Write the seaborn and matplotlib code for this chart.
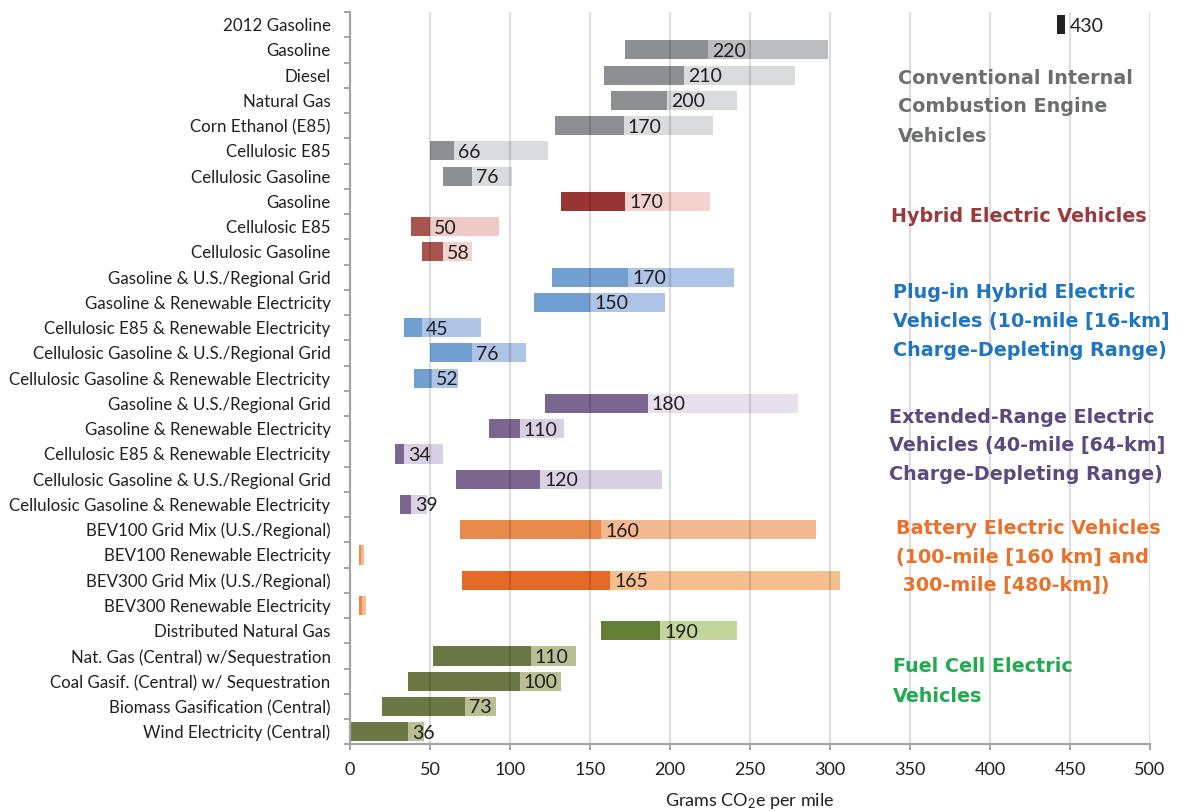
import numpy as np
import pandas as pd
import matplotlib.pyplot as plt
import seaborn as sns
from matplotlib.ticker import FixedLocator

# rows, top to bottom
labels = [
    "2012 Gasoline",
    "Gasoline", "Diesel", "Natural Gas", "Corn Ethanol (E85)",
    "Cellulosic E85", "Cellulosic Gasoline",
    "Gasoline", "Cellulosic E85", "Cellulosic Gasoline",
    "Gasoline & U.S./Regional Grid", "Gasoline & Renewable Electricity",
    "Cellulosic E85 & Renewable Electricity",
    "Cellulosic Gasoline & U.S./Regional Grid",
    "Cellulosic Gasoline & Renewable Electricity",
    "Gasoline & U.S./Regional Grid", "Gasoline & Renewable Electricity",
    "Cellulosic E85 & Renewable Electricity",
    "Cellulosic Gasoline & U.S./Regional Grid",
    "Cellulosic Gasoline & Renewable Electricity",
    "BEV100 Grid Mix (U.S./Regional)", "BEV100 Renewable Electricity",
    "BEV300 Grid Mix (U.S./Regional)", "BEV300 Renewable Electricity",
    "Distributed Natural Gas", "Nat. Gas (Central) w/Sequestration",
    "Coal Gasif. (Central) w/ Sequestration",
    "Biomass Gasification (Central)", "Wind Electricity (Central)",
]

# range start, central estimate, range end (g CO2e / mile)
low = [442, 172, 159, 163, 128, 50, 58, 132, 38, 45,
       126, 115, 34, 50, 40, 122, 87, 28, 66, 31,
       69, 5.6, 70, 5.6, 157, 52, 36, 20, 0.6]
mid = [447, 224, 209, 198, 171, 65, 76, 172, 50, 58,
       174, 150, 45, 76, 51, 186, 106, 34, 119, 38,
       157, 7.1, 162.5, 7.4, 194, 113, 106, 72, 36]
high = [447, 299, 278, 242, 227, 124, 101, 225, 93, 76,
        240, 197, 82, 110, 67.5, 280, 134, 58, 195, 48,
        291, 8.8, 306, 10, 242, 141, 132, 91, 46]
shown = ["430", "220", "210", "200", "170", "66", "76", "170", "50", "58",
         "170", "150", "45", "76", "52", "180", "110", "34", "120", "39",
         "160", "", "165", "", "190", "110", "100", "73", "36"]

dark = ["#231f20"] + ["#8e8f93"] * 6 + ["#993434", "#a9544f", "#a9544f"] \
    + ["#729fd2"] * 5 + ["#7b668f"] * 5 \
    + ["#e9894b", "#ec8a4c", "#e46b25", "#ec8a4c"] \
    + ["#657f37"] + ["#6b7846"] * 4
light = ["#231f20", "#bcbdbf"] + ["#dadbdc"] * 5 \
    + ["#f2d3d0", "#eecbc7", "#f2d3d0"] + ["#adc4e6"] * 5 \
    + ["#e7e0ed"] + ["#d9d1e3"] * 4 \
    + ["#f4b98e", "#f4b98e", "#f8bf8e", "#f8bf8e"] \
    + ["#c3d69b"] + ["#b7bf93"] * 4

group_names = [
    ["Conventional Internal", "Combustion Engine", "Vehicles"],
    ["Hybrid Electric Vehicles"],
    ["Plug-in Hybrid Electric", "Vehicles (10-mile [16-km]", "Charge-Depleting Range)"],
    ["Extended-Range Electric", "Vehicles (40-mile [64-km]", "Charge-Depleting Range)"],
    ["Battery Electric Vehicles", "(100-mile [160 km] and", " 300-mile [480-km])"],
    ["Fuel Cell Electric", "Vehicles"],
]
group_colors = ["#6d6e71", "#9b3a3a", "#1f75bf", "#5b4a7e", "#e8722c", "#22ab4e"]
# first-line pixel position of each group caption
group_xy = [(898, 78), (891, 216), (893, 292), (889, 417), (896, 528), (893, 667)]

sns.set_theme(style="white")
plt.rcParams["font.family"] = ["Lato", "DejaVu Sans"]
plt.rcParams["mathtext.fontset"] = "custom"
plt.rcParams["mathtext.rm"] = "Lato"
plt.rcParams["mathtext.it"] = "Lato:italic"

keys = [str(i) for i in range(len(labels))]
df = pd.DataFrame({"key": keys, "low": low, "mid": mid, "high": high})

W, H = 1184, 811
fig = plt.figure(figsize=(W / 100, H / 100), dpi=100)
ax = fig.add_axes([350 / W, (H - 744.3) / H, 800 / W, 732.3 / H])

common = dict(y="key", hue="key", order=keys, hue_order=keys, legend=False,
              width=0.76, saturation=1, errorbar=None, linewidth=0, ax=ax)
sns.barplot(data=df, x="high", palette=dict(zip(keys, light)), **common)
sns.barplot(data=df, x="mid", palette=dict(zip(keys, dark)), **common)
sns.barplot(data=df, x="low", palette=dict(zip(keys, ["white"] * len(keys))), **common)

for i, txt in enumerate(shown):
    if txt:
        ax.annotate(txt, xy=(mid[i], i), xytext=(3, -1), textcoords="offset points",
                    ha="left", va="center", fontsize=14, color="#231f20", zorder=4)

ax.set_xlim(0, 500)
ax.set_ylim(len(labels) - 0.5, -0.5)
ax.set_xticks(np.arange(0, 501, 50))
ax.set_yticks(range(len(labels)))
ax.set_yticklabels(labels)
ax.yaxis.set_minor_locator(FixedLocator(np.arange(-0.5, len(labels), 1)))

spine_c = "#a3a4a8"
ax.tick_params(axis="y", which="major", length=0, pad=14, labelsize=12.2,
               labelcolor="#231f20")
ax.tick_params(axis="y", which="minor", left=True, length=4.5, width=1.4,
               color=spine_c)
ax.tick_params(axis="x", which="major", bottom=True, length=4, width=1.4,
               color=spine_c, pad=9, labelsize=13, labelcolor="#231f20")

for side in ["top", "right"]:
    ax.spines[side].set_visible(False)
for side in ["left", "bottom"]:
    ax.spines[side].set_color(spine_c)
    ax.spines[side].set_linewidth(1.6)
    ax.spines[side].set_zorder(5)

ax.grid(axis="x", color="black", alpha=0.13, linewidth=1.6)
ax.grid(axis="y", visible=False)
ax.set_axisbelow(False)
for gl in ax.get_xgridlines()[:1]:
    gl.set_visible(False)

ax.set_ylabel("")
ax.set_xlabel("Grams CO$_2$e per mile", fontsize=13, color="#231f20")
ax.xaxis.set_label_coords(0.5, -0.064)

for lines, color, (px, py) in zip(group_names, group_colors, group_xy):
    for k, line in enumerate(lines):
        fig.text(px / W, 1 - (py + 29 * k) / H, line, color=color, fontsize=13.8,
                 fontweight="bold", family=["DejaVu Sans"], ha="left", va="center")

fig.savefig("out.png", dpi=100)
